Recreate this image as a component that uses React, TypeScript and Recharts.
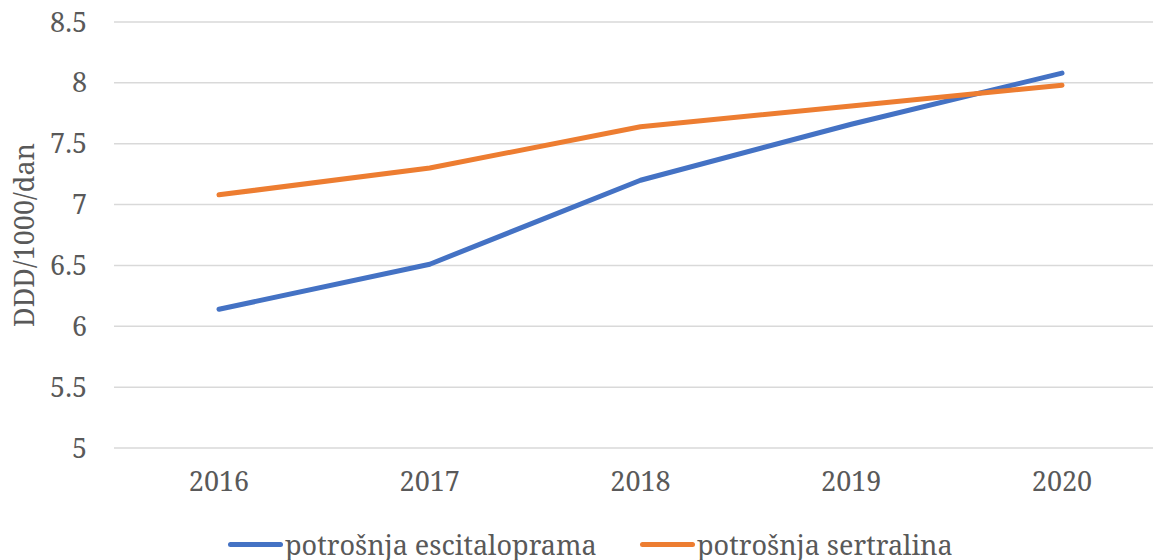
import React from "react";
import { LineChart, Line, XAxis, YAxis, CartesianGrid, Legend } from "recharts";

const years = ["2016", "2017", "2018", "2019", "2020"];
const escitalopram = [6.14, 6.51, 7.2, 7.66, 8.08];
const sertralin = [7.08, 7.3, 7.64, 7.81, 7.98];
const yTicks = [5, 5.5, 6, 6.5, 7, 7.5, 8, 8.5];
const seriesNames = ["potrošnja escitaloprama", "potrošnja sertralina"];
const colors = ["#4472C4", "#ED7D31"];

const data = years.map((y, i) => ({ year: y, esc: escitalopram[i], ser: sertralin[i] }));

const FONT = "Noto Serif, DejaVu Serif";
const FS = 27;
const TXT = "#595959";
const legendLeft = [228, 640];

const LegendContent = () => (
  <div style={{ position: "relative", height: 40, fontFamily: FONT, fontSize: FS, color: TXT, whiteSpace: "nowrap" }}>
    {seriesNames.map((n, i) => (
      <div key={n} style={{ position: "absolute", left: legendLeft[i], top: 6, display: "flex", alignItems: "center" }}>
        <span style={{ display: "inline-block", width: 55, height: 5, borderRadius: 3, background: colors[i], marginRight: 2 }} />
        <span>{n}</span>
      </div>
    ))}
  </div>
);

const YLabel = () => (
  <text x={23} y={235} transform="rotate(-90 23 235)" textAnchor="middle" dominantBaseline="central" fontFamily={FONT} fontSize={FS} fill={TXT}>
    DDD/1000/dan
  </text>
);

export default function App() {
  return (
    <div style={{ position: "absolute", left: 0, top: 0, width: 1153, height: 560, overflow: "hidden", background: "#fff" }}>
      <LineChart width={1167} height={560} data={data} margin={{ top: 22, right: 0, bottom: 0, left: 0 }}>
        <CartesianGrid vertical={false} stroke="#D9D9D9" strokeWidth={1.5} />
        <XAxis dataKey="year" axisLine={false} tickLine={false} tickSize={0} tickMargin={24} height={72}
          padding={{ left: 105, right: 105 }}
          tick={{ fontSize: FS, fill: TXT, fontFamily: FONT }} interval={0} />
        <YAxis domain={[5, 8.5]} ticks={yTicks} axisLine={false} tickLine={false} tickSize={0} tickMargin={27} width={114}
          tick={{ fontSize: FS, fill: TXT, fontFamily: FONT }} label={<YLabel />} />
        <Legend verticalAlign="bottom" height={40} content={<LegendContent />} wrapperStyle={{ height: 40, width: 1153, left: 0 }} />
        <Line dataKey="esc" name={seriesNames[0]} stroke={colors[0]} strokeWidth={5} strokeLinecap="round" strokeLinejoin="round" dot={false} isAnimationActive={false} />
        <Line dataKey="ser" name={seriesNames[1]} stroke={colors[1]} strokeWidth={5} strokeLinecap="round" strokeLinejoin="round" dot={false} isAnimationActive={false} />
      </LineChart>
    </div>
  );
}
